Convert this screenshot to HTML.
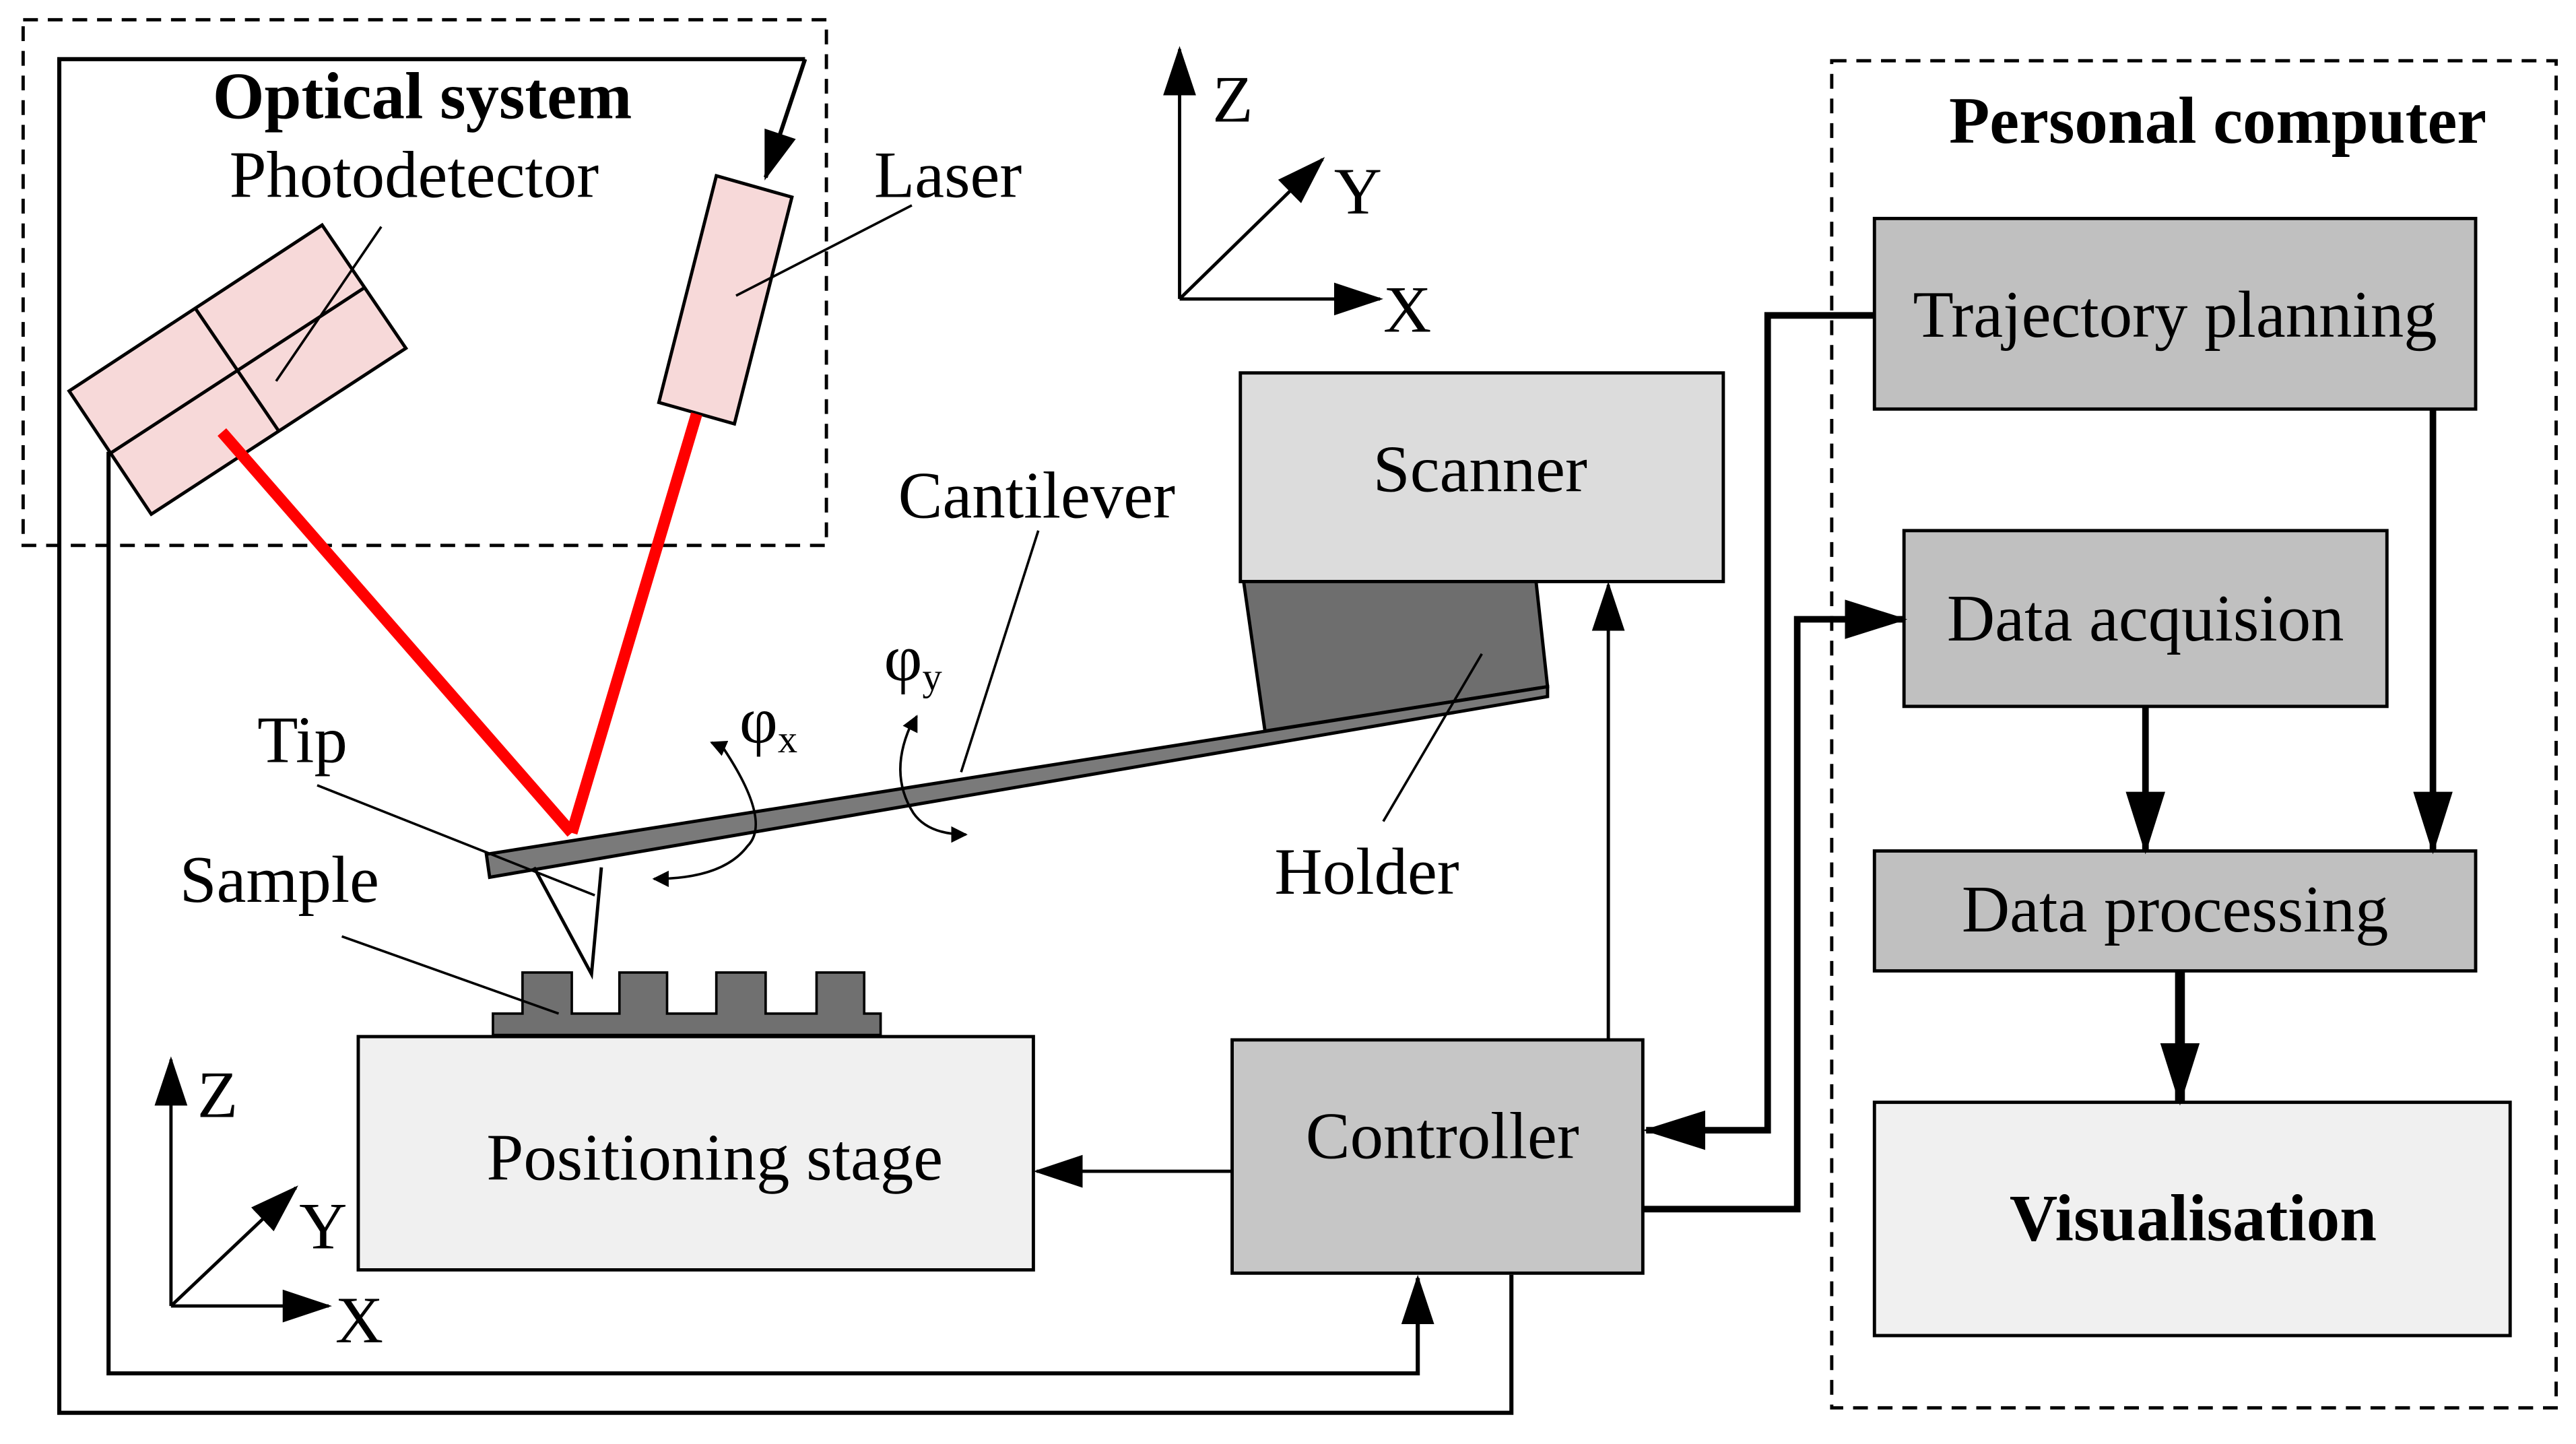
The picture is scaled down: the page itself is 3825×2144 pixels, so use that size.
<!DOCTYPE html>
<html><head><meta charset="utf-8"><style>
html,body{margin:0;padding:0;background:#fff}
svg{display:block}
text{font-family:"Liberation Serif",serif;font-size:40.5px;fill:#000}
</style></head><body>
<svg width="3825" height="2144" viewBox="0 0 1568 879" xmlns="http://www.w3.org/2000/svg">
<defs>
<marker id="a" markerWidth="10" markerHeight="10" refX="9" refY="5" orient="auto" markerUnits="userSpaceOnUse"><path d="M0,0 L10,5 L0,10 z" fill="#000"/></marker>
<marker id="b" markerWidth="30" markerHeight="20" refX="28" refY="10" orient="auto" markerUnits="userSpaceOnUse"><path d="M0,0 L30,10 L0,20 z" fill="#000"/></marker>
<marker id="c" markerWidth="38" markerHeight="24" refX="36" refY="12" orient="auto" markerUnits="userSpaceOnUse"><path d="M0,0 L38,12 L0,24 z" fill="#000"/></marker>
</defs>
<rect width="1568" height="879" fill="#fff"/>
<rect x="14" y="12" width="489" height="320" fill="none" stroke="#000" stroke-width="2" stroke-dasharray="9,6"/>
<rect x="1115" y="37" width="441" height="820" fill="none" stroke="#000" stroke-width="2" stroke-dasharray="9,6"/>
<polyline points="490,36 36,36 36,860 920,860 920,776" fill="none" stroke="#000" stroke-width="2.5"/>
<line x1="490" y1="36" x2="466" y2="108" stroke="#000" stroke-width="2.5" marker-end="url(#b)"/>
<polyline points="66,275 66,836 863,836 863,778" fill="none" stroke="#000" stroke-width="2.5" marker-end="url(#b)"/>
<polygon points="42,238 196,137 247,212 92,313" fill="#f7d9d9" stroke="#000" stroke-width="2"/>
<line x1="119" y1="188" x2="170" y2="263" stroke="#000" stroke-width="2"/>
<line x1="67" y1="276" x2="222" y2="175" stroke="#000" stroke-width="2"/>
<polygon points="436,107 482,120 447,258 401,245" fill="#f7d9d9" stroke="#000" stroke-width="2"/>
<line x1="135" y1="263" x2="348" y2="507" stroke="#f00" stroke-width="7"/>
<line x1="424" y1="252" x2="348" y2="507" stroke="#f00" stroke-width="7"/>
<text x="257" y="72" text-anchor="middle" font-weight="bold">Optical system</text>
<text x="252" y="120" text-anchor="middle">Photodetector</text>
<line x1="232" y1="138" x2="168" y2="232" stroke="#000" stroke-width="1.5"/>
<text x="577" y="120" text-anchor="middle">Laser</text>
<line x1="555" y1="125" x2="448" y2="180" stroke="#000" stroke-width="1.5"/>
<line x1="718" y1="182" x2="718" y2="30" stroke="#000" stroke-width="2" marker-end="url(#b)"/>
<line x1="718" y1="182" x2="840" y2="182" stroke="#000" stroke-width="2" marker-end="url(#b)"/>
<line x1="718" y1="182" x2="805" y2="97" stroke="#000" stroke-width="2" marker-end="url(#b)"/>
<text x="738" y="74">Z</text><text x="812" y="130">Y</text><text x="842" y="202">X</text>
<rect x="755" y="227" width="294" height="127" fill="#dcdcdc" stroke="#000" stroke-width="2"/>
<text x="901" y="299" text-anchor="middle">Scanner</text>
<polygon points="757,354 935,354 942,418 770,445" fill="#6e6e6e" stroke="#000" stroke-width="2"/>
<polygon points="296,520 942,418 942,424 298,534" fill="#7a7a7a" stroke="#000" stroke-width="2"/>
<text x="631" y="315" text-anchor="middle">Cantilever</text>
<line x1="632" y1="323" x2="585" y2="470" stroke="#000" stroke-width="1.5"/>
<text x="832" y="544" text-anchor="middle">Holder</text>
<line x1="842" y1="500" x2="902" y2="398" stroke="#000" stroke-width="1.5"/>
<polyline points="325,528 360,593 366,528" fill="none" stroke="#000" stroke-width="2"/>
<text x="184" y="464" text-anchor="middle">Tip</text>
<line x1="193" y1="478" x2="362" y2="545" stroke="#000" stroke-width="1.5"/>
<path d="M440,455 Q470,500 455,515 Q440,535 398,535" fill="none" stroke="#000" stroke-width="1.5" marker-end="url(#a)"/>
<line x1="440" y1="455" x2="433" y2="452" stroke="#000" stroke-width="1.5" marker-end="url(#a)"/>
<text x="450" y="452">φ<tspan font-size="24" dy="6">x</tspan></text>
<path d="M556,438 Q540,470 556,495 Q565,508 588,508" fill="none" stroke="#000" stroke-width="1.5" marker-end="url(#a)"/>
<line x1="556" y1="440" x2="558" y2="436" stroke="#000" stroke-width="1.5" marker-end="url(#a)"/>
<text x="538" y="414">φ<tspan font-size="24" dy="6">y</tspan></text>
<path d="M300,630 L300,617 L318,617 L318,592 L348,592 L348,617 L377,617 L377,592 L406,592 L406,617 L436,617 L436,592 L466,592 L466,617 L497,617 L497,592 L526,592 L526,617 L536,617 L536,630 Z" fill="#707070" stroke="#000" stroke-width="1.5"/>
<text x="170" y="549" text-anchor="middle">Sample</text>
<line x1="208" y1="570" x2="340" y2="617" stroke="#000" stroke-width="1.5"/>
<rect x="218" y="631" width="411" height="142" fill="#f0f0f0" stroke="#000" stroke-width="2"/>
<text x="435" y="718" text-anchor="middle">Positioning stage</text>
<line x1="104" y1="795" x2="104" y2="645" stroke="#000" stroke-width="2" marker-end="url(#b)"/>
<line x1="104" y1="795" x2="200" y2="795" stroke="#000" stroke-width="2" marker-end="url(#b)"/>
<line x1="104" y1="795" x2="180" y2="723" stroke="#000" stroke-width="2" marker-end="url(#b)"/>
<text x="120" y="680">Z</text><text x="182" y="760">Y</text><text x="204" y="817">X</text>
<rect x="750" y="633" width="250" height="142" fill="#c6c6c6" stroke="#000" stroke-width="2"/>
<text x="878" y="705" text-anchor="middle">Controller</text>
<line x1="750" y1="713" x2="631" y2="713" stroke="#000" stroke-width="2" marker-end="url(#b)"/>
<line x1="979" y1="633" x2="979" y2="356" stroke="#000" stroke-width="2" marker-end="url(#b)"/>
<text x="1350" y="87" text-anchor="middle" font-weight="bold">Personal computer</text>
<rect x="1141" y="133" width="366" height="116" fill="#c0c0c0" stroke="#000" stroke-width="2"/>
<text x="1324" y="205" text-anchor="middle">Trajectory planning</text>
<rect x="1159" y="323" width="294" height="107" fill="#c0c0c0" stroke="#000" stroke-width="2"/>
<text x="1306" y="390" text-anchor="middle">Data acquision</text>
<rect x="1141" y="518" width="366" height="73" fill="#c0c0c0" stroke="#000" stroke-width="2"/>
<text x="1324" y="567" text-anchor="middle">Data processing</text>
<rect x="1141" y="671" width="387" height="142" fill="#f0f0f0" stroke="#000" stroke-width="2"/>
<text x="1335" y="755" text-anchor="middle" font-weight="bold">Visualisation</text>
<line x1="1306" y1="430" x2="1306" y2="518" stroke="#000" stroke-width="4" marker-end="url(#c)"/>
<line x1="1481" y1="249" x2="1481" y2="518" stroke="#000" stroke-width="4" marker-end="url(#c)"/>
<line x1="1327" y1="591" x2="1327" y2="671" stroke="#000" stroke-width="6" marker-end="url(#c)"/>
<polyline points="1141,192 1076,192 1076,688 1002,688" fill="none" stroke="#000" stroke-width="4" marker-end="url(#c)"/>
<polyline points="1000,736 1094,736 1094,377 1159,377" fill="none" stroke="#000" stroke-width="4" marker-end="url(#c)"/>
</svg>
</body></html>
